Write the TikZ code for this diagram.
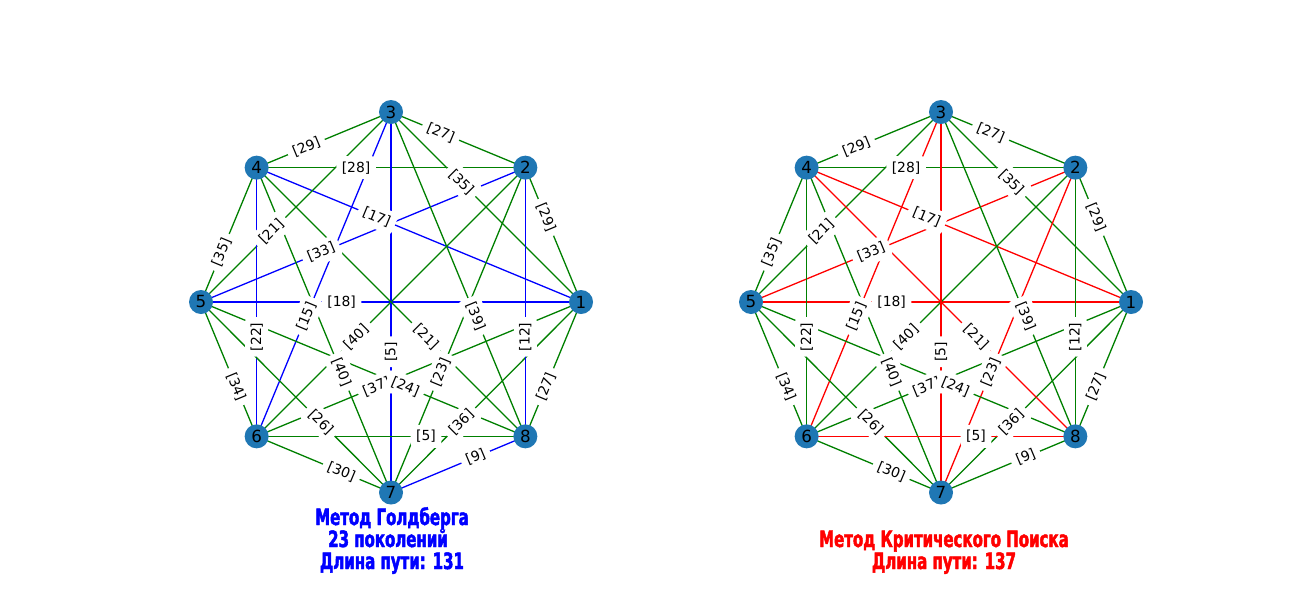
\documentclass[tikz,border=0pt]{standalone}
\usepackage{fontspec}
\setmainfont{DejaVu Sans}
\newfontfamily\titlefont[FakeStretch=0.74,FakeBold=2]{DejaVu Sans Condensed Bold}
\usetikzlibrary{backgrounds}
\definecolor{nodeblue}{HTML}{1F77B4}
\definecolor{mplgreen}{HTML}{008000}
\tikzset{
  vert/.style={circle, fill=nodeblue, minimum size=24pt, inner sep=0pt, font=\fontsize{16.7}{20}\selectfont},
  ge/.style={draw=mplgreen, line width=1.3pt},
  be/.style={draw=blue, line width=1.3pt},
  re/.style={draw=red, line width=1.3pt},
  lbl/.style={fill=white, rounded corners=4pt, inner xsep=5.5pt, inner ysep=0pt, minimum height=23pt, font=\fontsize{13.9}{16}\selectfont, pos=0.37},
  slp/.style={sloped},
  vrt/.style={rotate=90},
  ttl/.style={font=\titlefont\fontsize{22.5}{24}\selectfont, anchor=base, inner sep=0pt},
}
\begin{document}
\begin{tikzpicture}[x=1pt,y=-1pt]
\path[use as bounding box] (0,0) rectangle (1300,600);
\foreach \p/\cx in {L/391,R/941}{
  \node[vert] (\p1) at (\cx+190,302) {1};
  \node[vert] (\p2) at (\cx+134.35,167.65) {2};
  \node[vert] (\p3) at (\cx,112) {3};
  \node[vert] (\p4) at (\cx-134.35,167.65) {4};
  \node[vert] (\p5) at (\cx-190,302) {5};
  \node[vert] (\p6) at (\cx-134.35,436.35) {6};
  \node[vert] (\p7) at (\cx,492.5) {7};
  \node[vert] (\p8) at (\cx+134.35,436.35) {8};
}
\begin{pgfonlayer}{background}
\fill[white] (0,0) rectangle (1300,600);
\foreach \a/\b/\c in {2/1/ge,3/1/ge,4/1/be,5/1/be,6/1/ge,7/1/ge,8/1/ge,
  3/2/ge,4/2/ge,5/2/be,6/2/ge,7/2/ge,8/2/be,
  4/3/ge,5/3/ge,6/3/be,7/3/be,8/3/ge,
  5/4/ge,6/4/be,7/4/ge,8/4/ge,
  6/5/ge,7/5/ge,8/5/ge,
  7/6/ge,8/6/ge,
  8/7/be}
  \draw[\c] (L\a.center) -- (L\b.center);
\foreach \a/\b/\c in {2/1/ge,3/1/ge,4/1/re,5/1/re,6/1/ge,7/1/ge,8/1/ge,
  3/2/ge,4/2/ge,5/2/re,6/2/ge,7/2/re,8/2/ge,
  4/3/ge,5/3/ge,6/3/re,7/3/re,8/3/ge,
  5/4/ge,6/4/ge,7/4/ge,8/4/re,
  6/5/ge,7/5/ge,8/5/ge,
  7/6/ge,8/6/re,
  8/7/ge}
  \draw[\c] (R\a.center) -- (R\b.center);
\end{pgfonlayer}
\foreach \p in {L,R}{
  \foreach \a/\b/\w/\r in {2/1/29/slp,3/1/35/slp,4/1/17/slp,5/1/18/slp,6/1/37/slp,7/1/36/slp,8/1/27/slp,
    3/2/27/slp,4/2/28/slp,5/2/33/slp,6/2/40/slp,7/2/23/slp,8/2/12/vrt,
    4/3/29/slp,5/3/21/slp,6/3/15/slp,7/3/5/vrt,8/3/39/slp,
    5/4/35/slp,6/4/22/vrt,7/4/40/slp,8/4/21/slp,
    6/5/34/slp,7/5/26/slp,8/5/24/slp,
    7/6/30/slp,8/6/5/slp,
    8/7/9/slp}
    \path (\p\a.center) -- (\p\b.center) node[lbl,\r] (lab\p\a\b) {[\w]};
}
\node[ttl, text=blue] (tl1) at (392,525) {Метод Голдберга};
\node[ttl, text=blue] (tl2) at (388,547) {23 поколений};
\node[ttl, text=blue] (tl3) at (392,569) {Длина пути: 131};
\node[ttl, text=red] (tr1) at (944,547) {Метод Критического Поиска};
\node[ttl, text=red] (tr2) at (944,569) {Длина пути: 137};
\end{tikzpicture}
\end{document}
